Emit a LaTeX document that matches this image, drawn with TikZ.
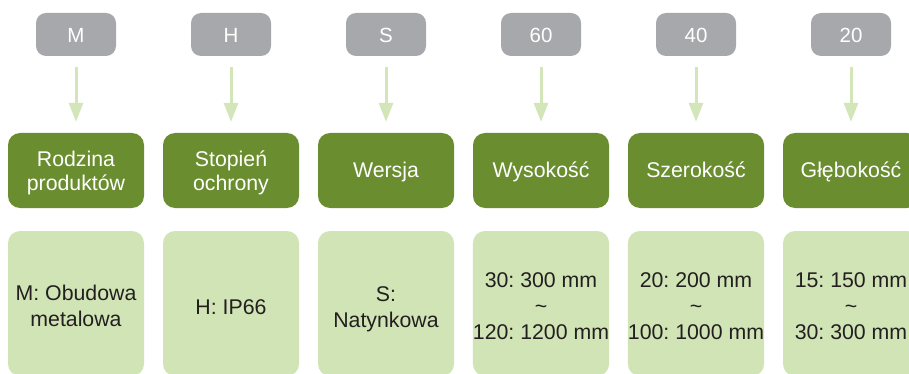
\documentclass[tikz,border=0pt]{standalone}
\usepackage{fontspec}
\setmainfont{Liberation Sans}
\usetikzlibrary{arrows.meta}
\definecolor{grayb}{HTML}{A7A8AB}
\definecolor{darkg}{HTML}{6A8D2F}
\definecolor{lightg}{HTML}{D1E4B5}
\definecolor{arrowg}{HTML}{D3E6B9}
\definecolor{txt}{HTML}{231F20}
\frenchspacing
\begin{document}
\frenchspacing
\begin{tikzpicture}[x=1pt,y=-1pt,
  codebox/.style={fill=grayb, rounded corners=10pt, minimum width=80pt, minimum height=43pt, inner sep=0pt, text=white, text height=16pt, text depth=0pt, font=\fontsize{20.5}{24}\selectfont},
  headbox/.style={fill=darkg, rounded corners=12pt, minimum width=136pt, minimum height=75pt, inner sep=0pt, text=white, align=center, text depth=0pt, font=\fontsize{21.3}{24}\selectfont\frenchspacing},
  valbox/.style={fill=lightg, rounded corners=12pt, minimum width=136pt, minimum height=145pt, inner sep=0pt, text=txt, align=center, text depth=0pt, font=\fontsize{21.3}{26}\selectfont\frenchspacing},
  flow/.style={draw=arrowg, line width=3pt, -{Triangle[width=14pt,length=19pt]}, shorten <=11pt, shorten >=11pt}]
\clip (0,0) rectangle (909,374);
\foreach \i/\x/\c in {1/76/M, 2/231/H, 3/386/S, 4/541/60, 5/696/40, 6/851/20}
  \node[codebox] (g\i) at (\x,34.5) {\c};
\node[headbox, text height=39pt] (d1) at (76,170.5) {Rodzina\\produktów};
\node[headbox, text height=39pt] (d2) at (231,170.5) {Stopień\\ochrony};
\node[headbox, text height=15pt] (d3) at (386,170.5) {Wersja};
\node[headbox, text height=15pt] (d4) at (541,170.5) {Wysokość};
\node[headbox, text height=15pt] (d5) at (696,170.5) {Szerokość};
\node[headbox, text height=15pt] (d6) at (851,170.5) {Głębokość};
\node[valbox, text height=45pt] (l1) at (76,303.5) {M: Obudowa\\metalowa};
\node[valbox, text height=21pt] (l2) at (231,303.5) {H: IP66};
\node[valbox, text height=47pt] (l3) at (386,303.5) {S:\\Natynkowa};
\node[valbox, text height=72pt] (l4) at (541,303.5) {30: 300 mm\\\textasciitilde\\120: 1200 mm};
\node[valbox, text height=71pt] (l5) at (696,303.5) {20: 200 mm\\\textasciitilde\\100: 1000 mm};
\node[valbox, text height=71pt] (l6) at (851,303.5) {15: 150 mm\\\textasciitilde\\30: 300 mm};
\foreach \i in {1,...,6}
  \draw[flow] (g\i) -- (d\i);
\end{tikzpicture}
\end{document}
